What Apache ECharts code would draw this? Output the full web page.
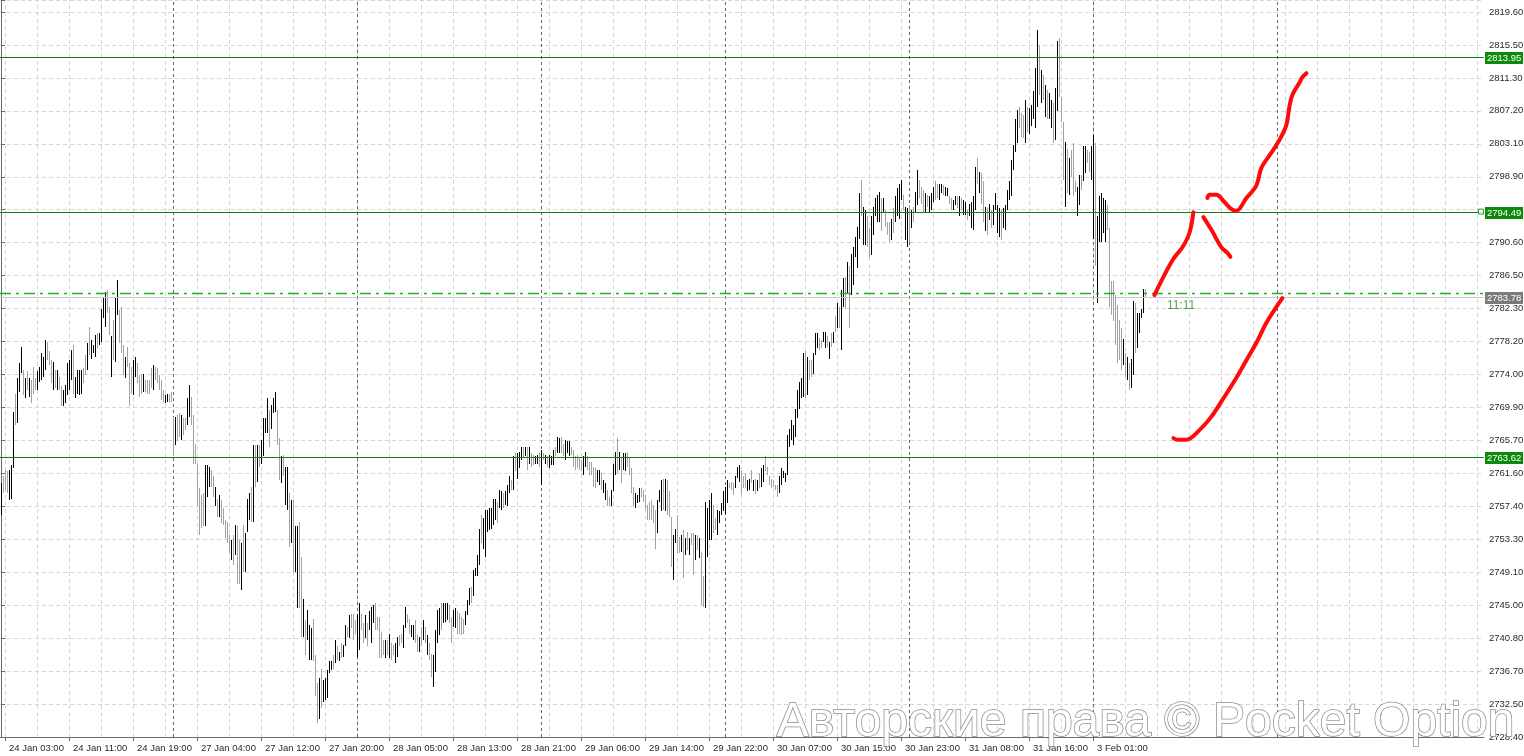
<!DOCTYPE html>
<html><head><meta charset="utf-8">
<script src="https://cdn.jsdelivr.net/npm/echarts/dist/echarts.min.js"></script>
<style>html,body{margin:0;padding:0;background:#fff;overflow:hidden}#c{width:1524px;height:756px}</style>
</head><body><div id="c"></div>
<script>
// ---------- data ----------
const xTickLabels = ["24 Jan 03:00","24 Jan 11:00","24 Jan 19:00","27 Jan 04:00","27 Jan 12:00","27 Jan 20:00","28 Jan 05:00","28 Jan 13:00","28 Jan 21:00","29 Jan 06:00","29 Jan 14:00","29 Jan 22:00","30 Jan 07:00","30 Jan 15:00","30 Jan 23:00","31 Jan 08:00","31 Jan 16:00","3 Feb 01:00"];
// bottom to top; '' = label hidden behind a level tag
const yTickLabels = ["2728.40","2732.50","2736.70","2740.80","2745.00","2749.10","2753.30","2757.40","2761.60","2765.70","2769.90","2774.00","2778.20","2782.30","2786.50","2790.60","","2798.90","2803.10","2807.20","2811.30","2815.50","2819.60"];
const yLow = 2728.4, yHigh = 2819.6;

const highs = [
2760.3,2761.2,2762.0,2761.8,2762.0,2762.6,2769.3,2771.6,2773.5,2775.4,
2777.5,2774.6,2773.5,2774.4,2773.5,2773.3,2775.0,2773.5,2774.4,2774.9,
2776.7,2776.2,2778.3,2778.1,2776.9,2775.8,2775.6,2774.6,2774.6,2773.7,
2772.5,2772.0,2772.7,2775.4,2775.8,2777.1,2777.7,2773.7,2774.6,2774.6,
2774.6,2774.8,2776.5,2777.9,2780.0,2778.3,2777.7,2779.0,2779.2,2779.2,
2782.3,2783.6,2784.4,2784.6,2782.5,2778.8,2780.9,2783.6,2785.9,2782.1,
2782.5,2777.7,2776.2,2777.5,2775.4,2775.0,2775.8,2776.2,2775.4,2773.9,
2774.1,2774.1,2773.3,2773.3,2773.3,2774.8,2775.2,2775.0,2774.8,2773.9,
2773.3,2772.0,2771.4,2771.6,2771.6,2771.8,2768.7,2768.7,2768.9,2769.1,
2768.9,2768.5,2768.5,2771.0,2772.7,2771.2,2768.9,2765.3,2762.8,2759.7,
2758.8,2759.1,2762.6,2762.6,2762.4,2762.0,2761.2,2759.9,2758.4,2758.8,
2758.2,2757.2,2755.7,2755.5,2753.8,2753.2,2753.8,2755.1,2754.9,2753.2,
2752.8,2755.1,2754.0,2758.4,2759.1,2759.9,2765.1,2765.1,2765.1,2765.1,
2765.8,2768.5,2768.5,2771.0,2769.5,2770.2,2771.0,2771.8,2769.5,2766.0,
2763.7,2763.9,2762.4,2762.4,2759.1,2758.2,2758.2,2754.9,2754.9,2755.5,
2751.1,2745.8,2743.1,2744.4,2742.5,2742.1,2743.3,2738.7,2735.2,2735.8,
2737.0,2735.6,2735.8,2736.8,2737.9,2737.9,2738.7,2740.6,2739.8,2739.1,
2740.2,2740.0,2742.5,2742.3,2743.7,2743.9,2743.9,2743.1,2743.9,2745.2,
2743.9,2742.7,2743.7,2742.7,2744.2,2744.8,2745.0,2745.2,2743.5,2743.5,
2741.6,2740.6,2740.6,2740.6,2741.4,2740.2,2740.0,2740.2,2741.0,2741.2,
2741.4,2742.5,2744.8,2743.9,2743.3,2742.5,2742.5,2743.1,2741.4,2741.0,
2742.3,2743.1,2742.3,2741.2,2740.2,2738.9,2738.7,2741.9,2744.4,2744.6,
2745.2,2745.2,2745.2,2745.2,2745.0,2743.5,2744.4,2744.6,2744.2,2744.0,
2743.5,2743.3,2744.2,2745.6,2747.1,2747.3,2749.4,2749.6,2751.3,2754.6,
2756.3,2755.9,2757.0,2757.0,2757.2,2757.2,2758.4,2758.4,2758.0,2759.5,
2759.3,2759.1,2759.3,2760.1,2761.2,2760.7,2763.7,2764.1,2764.1,2764.3,
2764.9,2764.9,2764.9,2764.9,2764.9,2764.1,2763.9,2763.7,2763.9,2764.1,
2764.5,2764.1,2763.9,2763.7,2763.9,2763.7,2764.5,2764.9,2766.2,2766.0,
2766.2,2765.3,2765.8,2765.6,2765.6,2764.9,2764.5,2763.7,2763.9,2763.5,
2763.2,2763.7,2764.3,2763.7,2763.0,2763.0,2762.4,2762.2,2762.0,2762.0,
2761.6,2760.7,2760.3,2759.5,2758.6,2759.5,2762.8,2764.3,2766.0,2764.3,
2763.5,2764.1,2764.1,2764.3,2763.5,2762.2,2759.9,2759.1,2758.8,2759.7,
2759.7,2759.5,2758.8,2757.6,2758.0,2758.2,2757.6,2757.0,2758.2,2759.5,
2760.7,2760.9,2760.9,2760.7,2759.3,2756.1,2753.8,2754.6,2756.3,2753.6,
2753.8,2754.4,2753.4,2754.2,2753.4,2754.0,2754.0,2753.8,2753.8,2753.4,
2751.7,2748.6,2758.0,2757.2,2758.2,2759.1,2757.6,2755.9,2757.0,2756.8,
2757.8,2759.3,2759.9,2760.7,2760.3,2760.5,2760.3,2761.2,2762.4,2762.6,
2761.8,2761.2,2761.6,2760.7,2760.9,2762.0,2760.7,2760.9,2760.7,2761.6,
2762.2,2762.6,2763.7,2762.4,2761.2,2760.9,2760.7,2760.1,2760.1,2761.2,
2762.2,2761.8,2761.6,2766.4,2767.2,2768.3,2767.6,2769.7,2772.1,2773.1,
2773.5,2776.7,2776.9,2776.2,2775.8,2775.8,2776.7,2779.2,2779.2,2778.6,
2778.3,2779.4,2779.4,2778.8,2778.1,2779.2,2779.4,2781.3,2783.0,2782.5,
2784.6,2786.1,2786.3,2788.2,2787.6,2789.2,2790.1,2791.3,2792.6,2796.8,
2798.5,2795.1,2794.7,2793.9,2792.4,2793.9,2795.1,2796.2,2796.6,2797.0,
2796.2,2796.2,2794.7,2793.2,2793.2,2793.6,2794.9,2796.4,2797.4,2798.0,
2798.5,2796.6,2795.1,2794.9,2795.3,2794.7,2795.1,2797.0,2799.7,2798.5,
2797.6,2797.2,2796.8,2796.6,2796.4,2796.8,2797.6,2798.3,2798.0,2798.0,
2798.0,2797.8,2797.6,2797.4,2796.4,2796.2,2795.9,2796.4,2796.4,2796.4,
2796.2,2795.9,2795.7,2794.7,2795.5,2795.7,2796.4,2800.1,2801.2,2799.5,
2799.3,2798.3,2795.1,2794.9,2795.5,2794.7,2795.3,2796.8,2795.3,2794.9,
2794.7,2794.9,2795.3,2797.2,2798.3,2801.0,2802.9,2806.2,2807.3,2807.7,
2806.9,2806.6,2808.5,2807.7,2807.5,2807.9,2809.6,2812.5,2817.3,2815.4,
2812.3,2811.7,2810.4,2809.8,2809.4,2808.5,2808.1,2810.0,2815.9,2816.3,
2808.9,2805.8,2803.3,2802.4,2801.2,2802.2,2803.1,2798.3,2797.6,2799.1,
2799.1,2802.7,2802.7,2802.2,2802.0,2802.7,2804.1,2803.1,2793.9,2796.4,
2796.8,2796.2,2796.0,2795.3,2792.4,2785.7,2785.7,2784.0,2782.7,2780.9,
2779.8,2778.5,2776.7,2776.2,2775.4,2776.0,2783.2,2783.0,2781.7,2781.7,
2782.3,2784.8,2784.8];

const lows = [
2756.3,2759.1,2759.5,2759.1,2758.2,2758.4,2762.2,2767.6,2767.9,2771.8,
2774.2,2771.4,2771.0,2772.0,2771.2,2770.4,2771.6,2772.0,2772.0,2773.1,
2773.3,2773.7,2774.6,2775.8,2775.2,2772.9,2772.0,2772.3,2772.0,2772.0,
2770.0,2770.0,2770.4,2771.4,2772.0,2773.3,2771.6,2771.0,2771.6,2771.4,
2771.6,2772.9,2773.9,2774.6,2776.5,2776.0,2776.7,2776.2,2777.3,2777.7,
2778.1,2781.1,2780.0,2781.7,2779.0,2773.7,2775.8,2775.6,2781.5,2778.0,
2776.7,2773.9,2773.5,2775.0,2770.0,2771.6,2771.4,2773.7,2772.9,2771.2,
2771.6,2771.8,2771.8,2771.6,2771.6,2772.3,2772.0,2773.3,2772.9,2772.0,
2770.8,2770.6,2770.4,2770.6,2770.6,2770.6,2763.7,2765.1,2765.6,2766.2,
2765.8,2766.4,2767.0,2767.6,2768.7,2767.6,2762.8,2762.8,2757.4,2753.8,
2754.7,2754.9,2754.9,2758.6,2759.9,2759.9,2758.6,2757.4,2756.1,2756.1,
2755.3,2755.1,2753.4,2752.8,2751.5,2750.7,2750.0,2751.3,2747.7,2747.7,
2746.9,2749.2,2749.2,2754.2,2755.7,2755.5,2755.5,2759.9,2760.5,2762.4,
2762.8,2763.7,2766.6,2766.6,2764.9,2767.2,2769.1,2769.3,2765.1,2760.7,
2760.3,2761.2,2757.6,2756.9,2752.3,2752.8,2749.2,2749.2,2744.6,2744.6,
2741.0,2741.0,2738.7,2740.6,2738.1,2738.1,2737.9,2733.5,2730.1,2730.7,
2732.0,2732.8,2733.1,2733.3,2736.4,2736.8,2737.0,2737.7,2738.1,2737.9,
2738.3,2738.5,2739.8,2741.0,2740.8,2742.1,2740.6,2741.4,2738.5,2739.3,
2741.9,2740.2,2740.8,2739.8,2741.9,2740.2,2742.7,2741.9,2741.9,2738.3,
2738.3,2738.7,2738.3,2738.7,2738.3,2738.1,2738.7,2737.7,2738.5,2739.8,
2740.2,2739.6,2742.1,2742.7,2741.4,2741.0,2740.6,2740.2,2739.1,2739.1,
2739.8,2740.6,2740.2,2738.7,2738.1,2736.0,2734.7,2736.6,2740.2,2741.2,
2741.9,2742.7,2742.9,2743.1,2742.7,2740.2,2742.3,2742.1,2741.4,2741.4,
2741.2,2741.4,2742.5,2743.7,2745.0,2745.2,2746.1,2748.6,2748.6,2750.0,
2752.8,2752.1,2751.1,2754.2,2754.4,2754.6,2755.1,2755.7,2755.3,2757.2,
2757.0,2757.2,2757.6,2757.4,2759.1,2759.5,2759.5,2761.8,2760.9,2762.2,
2763.2,2763.5,2763.7,2762.0,2762.8,2762.4,2762.6,2762.8,2762.8,2762.4,
2760.1,2763.2,2762.8,2762.4,2762.2,2762.6,2762.6,2763.7,2764.1,2764.1,
2764.1,2763.7,2763.2,2764.1,2763.7,2763.9,2762.4,2762.0,2762.2,2762.0,
2761.8,2761.4,2762.4,2762.0,2761.4,2761.4,2759.9,2759.7,2760.5,2760.1,
2759.5,2759.1,2758.2,2757.4,2757.4,2757.4,2759.3,2761.4,2761.6,2762.0,
2760.3,2762.0,2761.8,2762.4,2761.4,2759.1,2757.4,2757.2,2757.8,2758.0,
2758.6,2758.0,2757.0,2755.7,2755.7,2755.7,2755.3,2752.1,2754.0,2758.0,
2756.8,2757.0,2756.8,2756.3,2756.1,2749.8,2748.2,2752.8,2751.5,2751.5,
2751.7,2748.4,2751.3,2751.9,2751.3,2752.6,2748.8,2750.7,2751.9,2750.9,
2745.0,2744.8,2744.6,2751.1,2753.2,2753.2,2754.0,2754.4,2753.8,2755.3,
2756.3,2756.8,2756.5,2757.8,2759.7,2759.5,2758.8,2759.7,2761.0,2760.5,
2758.8,2759.7,2759.7,2759.3,2759.5,2760.3,2759.3,2759.0,2759.3,2759.7,
2759.9,2760.5,2761.8,2761.4,2760.1,2759.7,2759.9,2759.5,2758.6,2759.1,
2760.1,2761.0,2760.5,2761.4,2764.9,2765.8,2765.1,2766.2,2768.5,2769.7,
2771.0,2771.2,2771.0,2771.4,2773.3,2773.7,2774.1,2776.5,2777.3,2777.1,
2777.3,2778.1,2777.3,2777.5,2776.0,2777.5,2777.9,2779.4,2779.8,2779.8,
2777.1,2782.5,2782.3,2784.2,2779.8,2784.0,2785.3,2788.8,2787.4,2791.1,
2793.9,2790.3,2790.3,2790.1,2788.8,2789.0,2791.6,2793.9,2793.2,2793.2,
2792.0,2794.5,2792.6,2791.6,2790.7,2790.9,2791.8,2793.2,2793.9,2793.6,
2795.9,2794.7,2790.9,2790.1,2790.7,2792.4,2793.2,2794.3,2795.3,2796.2,
2795.5,2794.5,2794.3,2795.1,2794.3,2794.7,2795.7,2795.9,2796.2,2795.9,
2796.8,2796.6,2796.4,2796.4,2795.5,2794.7,2794.7,2795.3,2794.9,2793.9,
2794.7,2794.1,2794.1,2793.4,2793.9,2792.4,2792.2,2794.7,2798.0,2796.8,
2795.5,2793.2,2792.0,2791.5,2793.4,2792.4,2792.8,2794.7,2791.8,2791.3,
2790.9,2792.4,2792.2,2794.7,2795.9,2796.4,2799.7,2802.0,2803.1,2805.0,
2803.9,2803.7,2803.1,2804.5,2804.3,2805.2,2806.2,2805.0,2807.7,2809.2,
2808.1,2808.5,2806.4,2806.2,2806.2,2805.0,2803.1,2803.5,2807.1,2808.9,
2805.8,2798.5,2795.1,2796.8,2796.6,2798.9,2796.4,2797.0,2793.9,2795.3,
2797.2,2798.3,2799.3,2800.6,2799.5,2798.5,2791.1,2787.6,2783.0,2790.7,
2790.7,2791.8,2790.7,2792.2,2782.5,2781.5,2780.7,2777.7,2775.4,2775.8,
2774.6,2775.2,2773.7,2773.3,2772.0,2772.3,2773.9,2776.7,2777.3,2779.2,
2781.1,2781.7,2783.6];

// 1 = black bar, 0 = grey bar
const blackBar = [
1,0,0,0,1,1,1,0,1,1, 1,0,1,0,1,0,0,0,1,1, 1,1,1,0,0,0,1,0,1,0, 0,1,1,1,1,1,0,1,1,1,
1,0,0,1,0,1,1,1,0,1, 1,1,1,0,0,1,0,1,1,0, 0,0,1,0,0,0,1,1,0,0, 0,1,0,0,0,0,1,0,0,0,
0,0,1,1,0,0,0,1,0,0, 1,0,0,1,1,0,0,0,0,0, 0,0,1,1,1,0,0,1,0,1, 0,0,0,0,0,1,0,1,0,0,
1,0,1,1,1,0,1,0,1,0, 1,1,1,1,0,1,1,1,0,0, 1,0,1,1,0,1,0,1,1,0, 0,1,0,1,1,1,0,0,0,1,
0,1,1,1,1,1,0,1,0,1, 0,1,1,0,1,0,0,0,1,1, 0,0,1,0,1,1,1,0,0,0, 0,0,1,0,1,0,0,1,1,0,
0,1,1,0,0,1,1,0,0,1, 0,1,0,1,0,0,1,1,1,1, 0,1,1,1,0,0,1,1,0,0, 0,0,1,1,1,0,1,1,1,1,
0,1,1,1,1,1,1,1,0,1, 1,0,1,1,1,0,1,0,1,1, 1,0,1,0,1,0,0,1,1,0, 1,0,1,0,1,1,1,0,1,1,
0,0,1,1,1,0,0,0,0,0, 0,1,1,0,0,0,0,0,1,1, 0,1,1,0,0,1,1,1,0,1, 0,1,1,0,0,0,0,1,1,1,
0,0,0,0,0,0,0,0,1,1, 1,0,1,0,0,0,1,1,0,0, 1,0,1,0,1,0,0,1,0,1, 0,0,1,1,1,1,0,0,1,1,
1,1,1,1,0,0,0,1,1,1, 0,0,0,1,1,0,1,0,1,0, 1,1,0,0,0,0,0,0,0,1, 1,1,1,1,1,1,1,1,1,1,
1,1,0,1,0,0,1,1,1,0, 0,1,1,0,1,0,1,0,1,0, 1,1,0,1,0,1,1,1,1,1, 0,1,1,0,0,1,1,1,1,1,
0,1,0,0,0,1,0,1,1,1, 1,0,1,1,0,1,0,1,1,0, 0,0,1,0,1,1,1,0,0,1, 1,0,1,1,0,0,1,1,0,1,
0,1,1,0,1,1,1,1,0,1, 0,0,1,0,1,0,1,1,1,1, 0,1,1,1,1,1,1,1,1,0, 0,0,1,0,1,1,1,1,1,0,
1,0,1,0,1,1,0,1,1,0, 0,0,1,0,1,0,0,0,1,1, 0,1,1,0,0,1,1,0,1,1, 1,1,1,0,0,0,0,0,0,0,
0,1,0,1,0,1,1,0,1,1, 1,1,0];

const daySeparators = [86,178,270,362,454,546,638];
const levelPrices = [2813.95, 2794.49, 2763.62];
const bidPrice = 2783.78;
const dashDotPrice = 2784.3;
const timerText = "11:11";
const timerAt = [590, 2782.7];
const anchorAt = [740, 2794.49];

// red freehand strokes, [bar position, price]
const strokeRise = [[576.7,2784.0],[585.8,2788.4],[590.7,2790.0],[594.2,2791.8],[596.2,2794.4]];
const strokeDip = [[601.2,2793.8],[605.2,2792.2],[610.2,2790.0],[613.2,2789.3],[614.7,2788.8]];
const strokeTick = [[603.2,2796.2],[604.2,2796.6],[607.7,2796.6],[611.7,2795.7],[615.2,2794.8],[617.7,2794.6],[622.7,2796.2],[627.7,2797.8],[630.2,2800.0],[635.2,2801.9],[639.2,2803.5],[642.7,2805.4],[644.2,2807.7],[645.7,2809.2],[649.2,2810.7],[650.7,2811.4],[652.7,2811.9]];
const strokeLow = [[586.2,2766.0],[588.2,2765.8],[592.7,2765.8],[599.2,2767.0],[605.2,2768.7],[610.7,2770.8],[617.7,2773.6],[622.7,2775.8],[627.7,2778.0],[632.7,2780.5],[637.7,2782.5],[640.7,2783.6]];

// ---------- layout helpers ----------
const FONT = "'Liberation Sans', Arial, sans-serif";
const SLOTS = 742;                 // bar slots across the plot (2 px each)
const BAR_STEP = 16;               // light grid every 16 bars
const LABEL_STEP = 32;             // a time label every 32 bars
const FIRST_TICK = 2;              // bar index of the first time label
const plotH = 737;
const yStep = (yHigh - yLow) / (yTickLabels.length - 1);
const yTop = yHigh + 12 * (yHigh - yLow) / (plotH - 12);
const gridX = [];
for (let v = FIRST_TICK; v < SLOTS; v += BAR_STEP) gridX.push(v);
const slots = Array.from({length: SLOTS}, (_, i) => String(i));
const bars = highs.map((h, i) => [i, h, lows[i], blackBar[i]]);
// horizontal lines: [x, price, kind]  kind 0 = green level, 1 = bid, 2 = dash-dot
const hLines = levelPrices.map(p => [0, p, 0]).concat([[0, bidPrice, 1], [0, dashDotPrice, 2]]);

const chart = echarts.init(document.getElementById('c'), null, {renderer: 'canvas'});

const redLine = data => ({
  type: 'line', data: data, smooth: 0.35, symbol: 'none', silent: true, z: 20,
  lineStyle: {color: '#ff0a0a', width: 4, cap: 'round', join: 'round'}
});

const option = {
  animation: false,
  backgroundColor: '#ffffff',
  grid: {left: 0, right: 40, top: 0, bottom: 19, containLabel: false, outerBoundsMode: 'none'},
  xAxis: [
    {
      type: 'value', min: -0.5, max: SLOTS - 0.5, show: false,
      axisLine: {show: false}, axisTick: {show: false}, axisLabel: {show: false}, splitLine: {show: false}
    },
    {
      type: 'category', data: slots, boundaryGap: true, position: 'bottom',
      axisLine: {show: true, onZero: false, lineStyle: {color: '#6a6a6a', width: 1}},
      axisTick: {show: true, alignWithLabel: true, length: 4, lineStyle: {color: '#6a6a6a'},
                 interval: i => i >= FIRST_TICK && (i - FIRST_TICK) % LABEL_STEP === 0 && xTickLabels[(i - FIRST_TICK) / LABEL_STEP] !== undefined},
      axisLabel: {
        show: true, align: 'left', margin: 6, color: '#2a2a2a', fontFamily: FONT, fontSize: 9.5,
        padding: [0, 0, 0, 4],
        interval: i => i >= FIRST_TICK && (i - FIRST_TICK) % LABEL_STEP === 0 && xTickLabels[(i - FIRST_TICK) / LABEL_STEP] !== undefined,
        formatter: v => { const k = (Number(v) - FIRST_TICK) / LABEL_STEP; return xTickLabels[k] || ''; }
      },
      splitLine: {show: false}
    }
  ],
  yAxis: {
    type: 'value', position: 'right', min: yLow, max: yTop, interval: yStep,
    axisLine: {show: true, lineStyle: {color: '#6a6a6a', width: 1}},
    axisTick: {show: true, length: 4, lineStyle: {color: '#6a6a6a'}},
    axisLabel: {
      show: true, margin: 5, color: '#2a2a2a', fontFamily: FONT, fontSize: 9.5,
      formatter: v => { const k = Math.round((v - yLow) / yStep); return (Math.abs(yLow + k * yStep - v) < 0.01 && yTickLabels[k]) ? yTickLabels[k] : ''; }
    },
    splitLine: {show: true, lineStyle: {color: '#d6d6d6', type: [4, 3], width: 1}}
  },
  series: [
    {
      type: 'line', name: 'grid', data: [], silent: true, z: 1,
      markLine: {
        silent: true, symbol: 'none', animation: false,
        data: gridX.map(v => ({xAxis: v, label: {show: false}, lineStyle: {color: '#d6d6d6', type: [4, 3], width: 1}}))
          .concat(daySeparators.map(v => ({xAxis: v, label: {show: false}, lineStyle: {color: '#666666', type: [3, 3], width: 1}})))
      }
    },
    {
      type: 'custom', name: 'bars', data: bars, silent: true, z: 5,
      encode: {x: 0, y: [1, 2]},
      renderItem: (params, api) => {
        const x = api.value(0), hi = api.value(1), lo = api.value(2), b = api.value(3);
        const p1 = api.coord([x, hi]), p2 = api.coord([x, lo]);
        const top = Math.round(p1[1]);
        return {type: 'rect', shape: {x: Math.round(p1[0]), y: top, width: 1, height: Math.max(1, Math.round(p2[1]) - top)},
                style: {fill: b ? '#000000' : '#a2a2a2'}};
      }
    },
    {
      type: 'custom', name: 'levels', data: hLines, silent: true, z: 8, clip: false,
      encode: {x: 0, y: 1},
      renderItem: (params, api) => {
        const cs = params.coordSys;
        const price = api.value(1), kind = api.value(2);
        const py = Math.round(api.coord([0, price])[1]);
        const colors = ['#0f7f0f', '#c8c8c8', '#22b022'];
        const children = [{
          type: 'line', shape: {x1: cs.x, y1: py + 0.5, x2: cs.x + cs.width, y2: py + 0.5},
          style: {stroke: colors[kind], lineWidth: kind === 2 ? 1.5 : 1, lineDash: kind === 2 ? [11, 5, 3, 5] : null}
        }];
        if (kind !== 2) {
          const bx = cs.x + cs.width + 1;
          children.push({type: 'rect', shape: {x: bx, y: py - 5, width: 38, height: 12},
                         style: {fill: kind === 0 ? '#0c8a0c' : '#7a7a7a'}});
          children.push({type: 'text', x: bx + 2, y: py + 1,
                         style: {text: price.toFixed(2), fill: '#ffffff', font: '9.5px ' + FONT, verticalAlign: 'middle', align: 'left'}});
        }
        return {type: 'group', children: children};
      }
    },
    {
      type: 'scatter', name: 'anchor', data: [anchorAt], symbol: 'rect', symbolSize: 5, silent: true, z: 9,
      itemStyle: {color: '#ffffff', borderColor: '#0f7f0f', borderWidth: 1}
    },
    {
      type: 'scatter', name: 'timer', data: [timerAt], symbolSize: 1, silent: true, z: 9,
      itemStyle: {color: 'rgba(0,0,0,0)'},
      label: {show: true, position: 'inside', formatter: timerText, color: '#2e8b2e', fontFamily: FONT, fontSize: 12}
    },
    redLine(strokeRise), redLine(strokeDip), redLine(strokeTick), redLine(strokeLow)
  ],
  graphic: [{
    type: 'text', left: 776, top: 698, z: 100, silent: true,
    style: {text: 'Авторские права © Pocket Option', fontFamily: FONT, fontSize: 48,
            fill: '#ffffff', stroke: '#8c8c8c', lineWidth: 1.5}
  }]
};
chart.setOption(option);
</script>
</body></html>
